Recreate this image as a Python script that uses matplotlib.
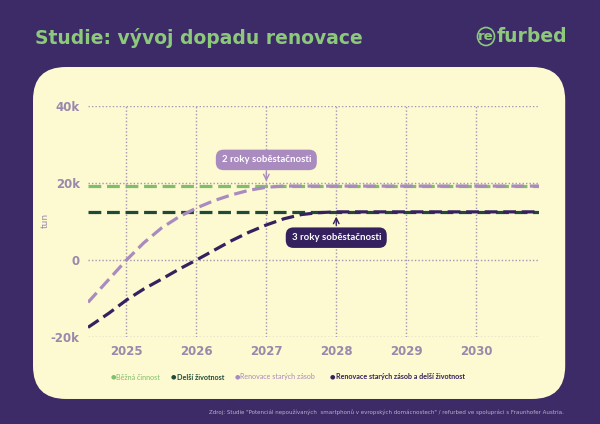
import matplotlib
matplotlib.use("Agg")
import matplotlib.pyplot as plt
from matplotlib.patches import FancyBboxPatch, Ellipse

# ---- data ----
years = [2025, 2026, 2027, 2028, 2029, 2030]
ytick_vals = [-20000, 0, 20000, 40000]
ytick_labels = ["-20k", "0", "20k", "40k"]

x_range = [2024.45, 2030.9]
bezna_cinnost = [19200, 19200]
delsi_zivotnost = [12500, 12500]

renov_x = [2024.45, 2024.75, 2025.0, 2025.25, 2025.5, 2025.75, 2026.0, 2026.25,
           2026.5, 2026.75, 2027.0, 2027.25, 2027.5, 2030.9]
renov_y = [-11000, -5000, 0, 4500, 8300, 11200, 13500, 15400,
           16900, 18100, 18900, 19200, 19200, 19200]

renov_del_x = [2024.45, 2024.75, 2025.0, 2025.25, 2025.5, 2025.75, 2026.0, 2026.25,
               2026.5, 2026.75, 2027.0, 2027.25, 2027.5, 2027.75, 2028.0, 2030.9]
renov_del_y = [-17500, -13800, -10400, -7500, -5000, -2400, 0, 2500,
               5000, 7200, 9100, 10700, 11800, 12300, 12500, 12500]

series_names = ["Běžná činnost", "Delší životnost", "Renovace starých zásob",
                "Renovace starých zásob a delší životnost"]

# ---- colours ----
BG = "#3d2b68"
PANEL = "#fdf9d0"
LGREEN = "#7fbf6c"
DGREEN = "#1f4a3a"
LPURPLE = "#a98bc0"
DPURPLE = "#34215e"
TICK = "#9a88ad"
GRID = "#a596b3"
TITLE = "#8cc97a"

fig = plt.figure(figsize=(6, 4.24), dpi=100)
fig.patch.set_facecolor(BG)

# cream panel
panel = FancyBboxPatch((0.055, 0.059), 0.887, 0.783,
                       boxstyle="round,pad=0,rounding_size=0.055",
                       transform=fig.transFigure, facecolor=PANEL,
                       edgecolor="none", zorder=-5, mutation_aspect=600/424)
fig.patches.append(panel)

# title and logo
fig.text(0.058, 0.91, "Studie: vývoj dopadu renovace", color=TITLE,
         fontsize=13.5, fontweight="bold", va="center", ha="left",
         family="DejaVu Sans")
fig.text(486 / 600, 1 - 37 / 424, "re", color=TITLE, fontsize=9.5,
         fontweight="bold", va="center", ha="center", family="DejaVu Sans")
fig.text(567 / 600, 1 - 37 / 424, "furbed", color=TITLE, fontsize=13.5,
         fontweight="bold", va="center", ha="right", family="DejaVu Sans")
fig.patches.append(Ellipse((486 / 600, 1 - 36.5 / 424), 17 / 600, 18 / 424,
                           transform=fig.transFigure, facecolor="none",
                           edgecolor=TITLE, linewidth=1.2))

ax = fig.add_axes([0.1467, 0.2052, 0.7517, 0.5448])
ax.set_facecolor("none")
ax.set_xlim(x_range[0], x_range[1])
ax.set_ylim(-20000, 40000)

for s in ax.spines.values():
    s.set_visible(False)

ax.set_yticks(ytick_vals)
ax.set_yticklabels(ytick_labels)
ax.set_xticks(years)
ax.set_xticklabels([str(y) for y in years])
ax.tick_params(length=0, colors=TICK, labelsize=8.5, pad=6)
for lab in ax.get_xticklabels() + ax.get_yticklabels():
    lab.set_fontweight("bold")
    lab.set_color(TICK)

ax.grid(True, linestyle=(0, (1, 1.5)), color=GRID, linewidth=1.0)
ax.set_axisbelow(True)

ax.set_ylabel("tun", color=TICK, fontsize=6.5)
ax.yaxis.set_label_coords(-0.084, 0.506)

dash = (4, 1.8)
lw = 2.3
ax.plot(x_range, delsi_zivotnost, color=DGREEN, lw=lw, linestyle=(0, dash), zorder=3)
ax.plot(renov_del_x, renov_del_y, color=DPURPLE, lw=lw, linestyle=(0, dash), zorder=4)
ax.plot(x_range, bezna_cinnost, color=LGREEN, lw=lw, linestyle=(0, dash), zorder=3)
ax.plot(renov_x, renov_y, color=LPURPLE, lw=lw, linestyle=(0, dash), zorder=4)

# annotations
ax.annotate("", xy=(2027, 19700), xytext=(2027, 23700),
            arrowprops=dict(arrowstyle="->", color=LPURPLE, lw=1.0), zorder=6)
ax.text(2027, 26000, "2 roky soběstačnosti", color="white", fontsize=6.9,
        fontweight="bold", ha="center", va="center", zorder=7, family="Lato",
        bbox=dict(boxstyle="round,pad=0.6,rounding_size=0.8",
                  facecolor=LPURPLE, edgecolor="none"))
ax.annotate("", xy=(2028, 12000), xytext=(2028, 8300),
            arrowprops=dict(arrowstyle="->", color=DPURPLE, lw=1.0), zorder=6)
ax.text(2028, 5800, "3 roky soběstačnosti", color="white", fontsize=6.9,
        fontweight="bold", ha="center", va="center", zorder=7, family="Lato",
        bbox=dict(boxstyle="round,pad=0.6,rounding_size=0.8",
                  facecolor=DPURPLE, edgecolor="none"))

# legend as text
legend_items = [
    (113, 116, series_names[0], LGREEN, "normal"),
    (173, 177, series_names[1], DGREEN, "bold"),
    (237, 240, series_names[2], LPURPLE, "normal"),
    (332, 336, series_names[3], DPURPLE, "bold"),
]
ly = 1 - 377 / 424
for xd, xt, name, col, w in legend_items:
    fig.text(xd / 600, ly, "●", color=col, fontsize=4.5, va="center", ha="center")
    fig.text(xt / 600, ly, name, color=col, fontsize=5.1, fontweight=w,
             va="center", ha="left", family="Lato")

fig.text(0.94, 0.027,
         "Zdroj: Studie \"Potenciál nepoužívaných  smartphonů v evropských domácnostech\" / refurbed ve spolupráci s Fraunhofer Austria.",
         color="#b9b0c8", fontsize=4.0, ha="right", va="center")

fig.savefig("out.png", dpi=100, facecolor=BG)
